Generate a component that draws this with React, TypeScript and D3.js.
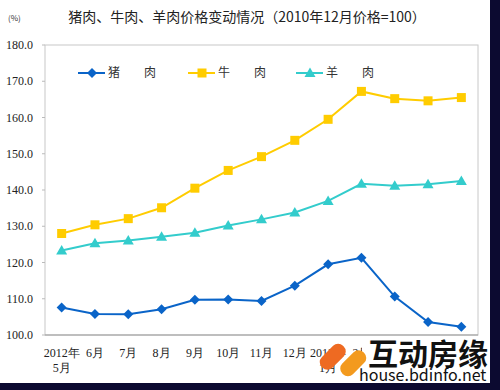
import React from 'react';
import * as d3 from 'd3';

// months from 2012-05 to 2013-05
const months = ['2012年|5月', '6月', '7月', '8月', '9月', '10月', '11月', '12月', '2013年|1月', '2月', '3月', '4月', '5月'];
const pork = [107.6, 105.8, 105.7, 107.1, 109.7, 109.8, 109.4, 113.6, 119.5, 121.3, 110.6, 103.6, 102.3];
const beef = [128.0, 130.4, 132.1, 135.1, 140.5, 145.4, 149.2, 153.7, 159.5, 167.2, 165.2, 164.6, 165.5];
const mutton = [123.3, 125.3, 126.1, 127.1, 128.2, 130.2, 131.9, 133.8, 137.0, 141.7, 141.2, 141.6, 142.5];
const yTicks = [100, 110, 120, 130, 140, 150, 160, 170, 180];

const series = [
  { name: '猪　　肉', values: pork, color: '#0a64c8', marker: 'diamond', lx: 78 },
  { name: '牛　　肉', values: beef, color: '#ffcc00', marker: 'square', lx: 188 },
  { name: '羊　　肉', values: mutton, color: '#33cccc', marker: 'triangle', lx: 296 },
];

const left = 45, right = 478, top = 45, bottom = 335;

const Marker = ({ type, x, y, color }: { type: string; x: number; y: number; color: string }) => {
  if (type === 'square') return <rect x={x - 4.5} y={y - 4.5} width={9} height={9} fill={color} />;
  if (type === 'diamond') return <path d={`M${x},${y - 5}L${x + 5},${y}L${x},${y + 5}L${x - 5},${y}Z`} fill={color} />;
  return <path d={`M${x},${y - 5.5}L${x + 5.5},${y + 4}L${x - 5.5},${y + 4}Z`} fill={color} />;
};

const App = () => {
  const x = d3.scalePoint<string>().domain(months).range([left, right]).padding(0.5);
  const y = d3.scaleLinear().domain([100, 180]).range([bottom, top]);
  const line = d3.line<number>().x((_, i) => x(months[i])!).y(d => y(d));
  const serif = '"Liberation Serif", "Times New Roman", serif';
  const sans = '"Noto Sans CJK SC", "Noto Sans", sans-serif';

  return (
    <svg width={500} height={390} style={{ position: 'absolute', left: 0, top: 0, background: '#fff' }}>
      <text x={247} y={22} textAnchor="middle" fontFamily={sans} fontSize={14} fill="#222">
        猪肉、牛肉、羊肉价格变动情况（2010年12月价格=100）
      </text>
      <text x={8} y={21} fontFamily={sans} fontSize={8} fill="#333">(%)</text>

      <rect x={left} y={top} width={right - left} height={bottom - top} fill="none" stroke="#c8c8c8" />
      <line x1={left} x2={right} y1={bottom} y2={bottom} stroke="#999" />

      {yTicks.map(t => (
        <g key={t}>
          <line x1={left - 3} x2={left} y1={y(t)} y2={y(t)} stroke="#bbb" />
          <text x={33} y={y(t) + 4} textAnchor="end" fontFamily={serif} fontSize={12} fill="#222">
            {t.toFixed(1)}
          </text>
        </g>
      ))}

      {months.map(m => {
        const parts = m.split('|');
        return (
          <text key={m} x={x(m)} y={357} textAnchor="middle" fontFamily={serif} fontSize={12} fill="#222">
            {parts.map((p, i) => (
              <tspan key={i} x={x(m)} dy={i === 0 ? 0 : 15}>{p}</tspan>
            ))}
          </text>
        );
      })}

      {series.map(s => (
        <g key={s.name}>
          <path d={line(s.values)!} fill="none" stroke={s.color} strokeWidth={2} />
          {s.values.map((v, i) => (
            <Marker key={i} type={s.marker} x={x(months[i])!} y={y(v)} color={s.color} />
          ))}
          <line x1={s.lx} x2={s.lx + 27} y1={73} y2={73} stroke={s.color} strokeWidth={2} />
          <Marker type={s.marker} x={s.lx + 14} y={73} color={s.color} />
          <text x={s.lx + 30} y={77} fontFamily={sans} fontSize={12} fill="#333" xmlSpace="preserve">{s.name}</text>
        </g>
      ))}

      {/* watermark, its white box hides the last labels */}
      <rect x={362} y={339} width={128} height={44} fill="#fff" />
      <g transform="translate(343,360) rotate(-45)">
        <rect x={-20} y={-17} width={30} height={15} rx={7} fill="#ee6a22" />
        <rect x={-10} y={2} width={30} height={15} rx={7} fill="#f39a1e" />
      </g>
      <text x={368} y={365} fontFamily={sans} fontSize={30} fontWeight={700} fill="#111">互动房缘</text>
      <text x={359} y={381} fontFamily={sans} fontSize={16} fill="#111">house.bdinfo.net</text>

      {/* dark frame */}
      <rect x={490} y={0} width={10} height={390} fill="#0c0a30" />
      <rect x={0} y={383} width={500} height={7} fill="#0c0a30" />
    </svg>
  );
};

export default App;
